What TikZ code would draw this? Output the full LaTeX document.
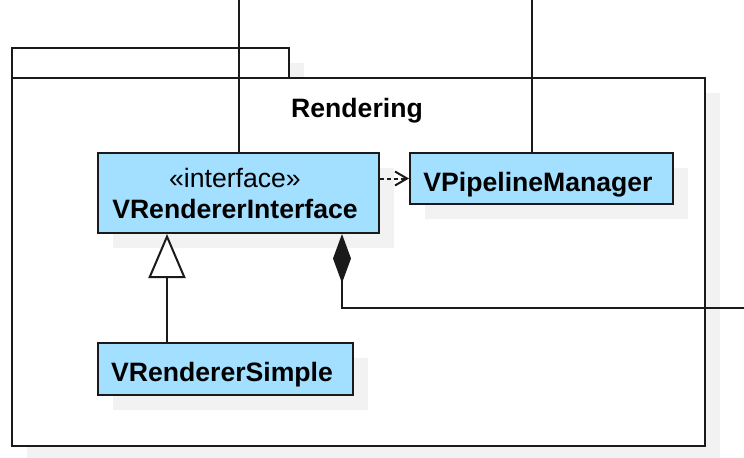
\documentclass[tikz,border=0pt]{standalone}
\usepackage{fontspec}
\setmainfont{Liberation Sans}
\usetikzlibrary{arrows.meta,shadows}
\definecolor{classfill}{RGB}{163,223,255}
\definecolor{shadowgray}{RGB}{242,242,242}
\definecolor{inkline}{RGB}{26,26,26}
\newcommand\umlfont{\fontsize{13.3}{15.5}\selectfont}
\newcommand\nudge{\kern3.5pt}
\begin{document}
\begin{tikzpicture}[x=0.5pt,y=-0.5pt,
  boxshadow/.style={drop shadow={shadow xshift=7.5pt,shadow yshift=-7.5pt,fill=shadowgray,opacity=1}},
  classbox/.style={draw=inkline, fill=classfill, line width=1pt, boxshadow,
    inner sep=0pt, font=\umlfont\bfseries, align=center},
  oneline/.style={text height=12.5pt, text depth=0pt},
  pkgpart/.style={draw=inkline, fill=white, line width=1pt, boxshadow, inner sep=0pt},
  link/.style={draw=inkline, line width=1pt},
  ]
\useasboundingbox (0,0) rectangle (744,457);

% package "Rendering": tab and body
\node[pkgpart, minimum width=138.5pt, minimum height=15pt] (pkgtab) at (150.5,63) {};
\node[pkgpart, minimum width=346.5pt, minimum height=184pt] (pkg) at (358.5,262) {};
\node[font=\umlfont\bfseries, inner sep=0pt, anchor=base] (pkgname) at (357,117) {Rendering};

% classes
\node[classbox, minimum width=140.5pt, minimum height=40pt] (iface) at (238.5,193)
  {{\mdseries «interface»}\nudge\\VRendererInterface\nudge};
\node[classbox, oneline, minimum width=131.5pt, minimum height=25.5pt] (pipe) at (541.5,178.5)
  {VPipelineManager\nudge};
\node[classbox, oneline, minimum width=127.5pt, minimum height=26pt] (simple) at (225.5,369)
  {VRendererSimple\nudge};

% connector end points
\coordinate (topA) at (238.5,0);
\coordinate (topB) at (532,0);
\coordinate (genfoot) at ([xshift=35pt]simple.north west);
\coordinate (compstart) at ([xshift=-19pt]iface.south east);
\coordinate (compend) at (744,308);

% lines leaving the package at the top
\draw[link] (topA) -- (iface.north);
\draw[link] (topB) -- (topB |- pipe.north);

% dependency
\draw[link, dash pattern=on 2pt off 1.5pt, -{Straight Barb[length=6pt,width=7pt]}]
  (iface.east |- pipe.west) -- (pipe.west);

% generalization
\draw[link, -{Triangle[open,length=22pt,width=18.5pt,fill=white]}]
  (genfoot) -- (genfoot |- iface.south);

% composition
\draw[link, {Diamond[length=24.5pt,width=9pt]}-] (compstart) |- (compend);
\end{tikzpicture}
\end{document}
